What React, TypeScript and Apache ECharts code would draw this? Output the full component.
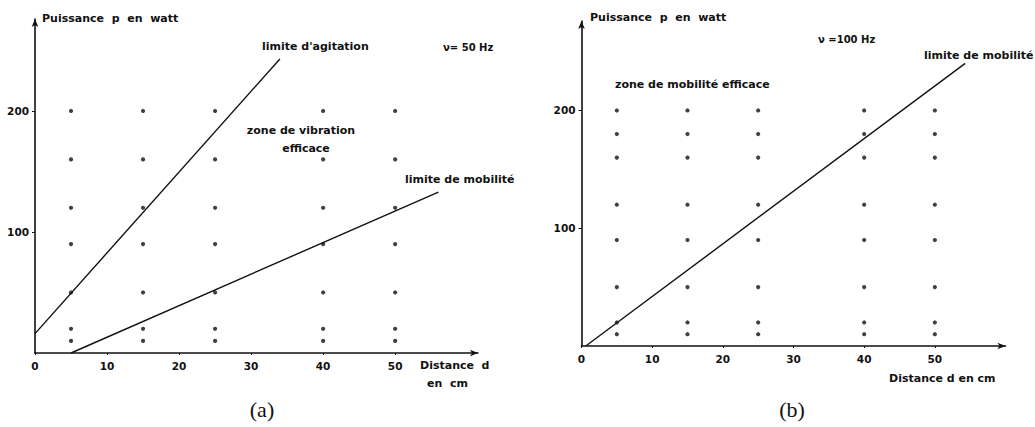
import React, { useEffect, useRef } from "react";
import * as echarts from "echarts";

// ---- data ----
const X_COLS = [5, 15, 25, 40, 50];
const P_ROWS_A = [10, 20, 50, 90, 120, 160, 200];
const P_ROWS_B = [10, 20, 50, 90, 120, 160, 180, 200];
const X_TICKS = [0, 10, 20, 30, 40, 50];
const Y_TICKS = [100, 200];
const AGITATION_A = [[0, 16], [34, 243]];
const MOBILITE_A = [[5, 0], [56, 133]];
const MOBILITE_B = [[0.6, 0], [54.3, 240]];

const INK = "#111";
const FONT = "DejaVu Sans";

function grid(xs: number[], ys: number[]) {
  const out: number[][] = [];
  xs.forEach((x) => ys.forEach((y) => out.push([x, y])));
  return out;
}

function xAxis(idx: number, max: number) {
  return {
    gridIndex: idx,
    type: "value",
    min: 0,
    max,
    interval: 10,
    axisLine: {
      show: true,
      onZero: false,
      symbol: ["none", "arrow"],
      symbolSize: [5, 8],
      lineStyle: { color: INK, width: 1.6 },
    },
    axisTick: { show: true, length: 2, customValues: X_TICKS, lineStyle: { color: INK } },
    axisLabel: {
      customValues: X_TICKS,
      margin: 7,
      color: INK,
      fontFamily: FONT,
      fontWeight: "bold",
      fontSize: 10.5,
    },
    splitLine: { show: false },
  };
}

function yAxis(idx: number) {
  return {
    gridIndex: idx,
    type: "value",
    min: 0,
    max: 276,
    interval: 100,
    axisLine: {
      show: true,
      onZero: false,
      symbol: ["none", "arrow"],
      symbolSize: [5, 8],
      lineStyle: { color: INK, width: 1.6 },
    },
    axisTick: { show: true, length: 3, customValues: Y_TICKS, lineStyle: { color: INK } },
    axisLabel: {
      customValues: Y_TICKS,
      margin: 6,
      color: INK,
      fontFamily: FONT,
      fontWeight: "bold",
      fontSize: 10.5,
    },
    splitLine: { show: false },
  };
}

function txt(text: string, x: number, y: number, align = "left", size = 11, font = FONT, weight = "bold") {
  return {
    type: "text",
    x,
    y,
    style: {
      text,
      fill: INK,
      font: `${weight} ${size}px "${font}"`,
      textAlign: align,
      textVerticalAlign: "middle",
    },
  };
}

export default function App() {
  const ref = useRef<HTMLDivElement>(null);
  useEffect(() => {
    if (!ref.current) return;
    const chart = echarts.init(ref.current, null, { renderer: "svg" });
    const lineStyle = { color: INK, width: 1.4 };
    chart.setOption({
      animation: false,
      backgroundColor: "#fff",
      grid: [
        { left: 35, top: 19, width: 443, height: 334 },
        { left: 581.5, top: 21, width: 424, height: 325 },
      ],
      xAxis: [xAxis(0, 61.5), xAxis(1, 60)],
      yAxis: [yAxis(0), yAxis(1)],
      series: [
        {
          type: "scatter",
          xAxisIndex: 0,
          yAxisIndex: 0,
          symbol: "circle",
          symbolSize: 4.2,
          itemStyle: { color: INK },
          data: grid(X_COLS, P_ROWS_A),
        },
        {
          type: "scatter",
          xAxisIndex: 1,
          yAxisIndex: 1,
          symbol: "circle",
          symbolSize: 4.2,
          itemStyle: { color: INK },
          data: grid(X_COLS, P_ROWS_B),
        },
        { type: "line", xAxisIndex: 0, yAxisIndex: 0, showSymbol: false, lineStyle, data: AGITATION_A },
        { type: "line", xAxisIndex: 0, yAxisIndex: 0, showSymbol: false, lineStyle, data: MOBILITE_A },
        { type: "line", xAxisIndex: 1, yAxisIndex: 1, showSymbol: false, lineStyle, data: MOBILITE_B },
      ],
      graphic: [
        // panel (a)
        txt("Puissance  p  en  watt", 42, 18),
        txt("limite d'agitation", 262, 46),
        txt("ν= 50 Hz", 443, 47, "left", 10),
        txt("zone de vibration", 301, 130, "center"),
        txt("efficace", 306, 148, "center"),
        txt("limite de mobilité", 405, 179),
        txt("Distance  d", 420, 365),
        txt("en  cm", 427, 383),
        // panel (b)
        txt("Puissance  p  en  watt", 590, 17),
        txt("ν =100 Hz", 818, 39, "left", 10),
        txt("limite de mobilité", 924, 55),
        txt("zone de mobilité efficace", 615, 84),
        txt("Distance d en cm", 889, 378),
        // captions
        txt("(a)", 262, 409, "center", 22, "Liberation Serif", "normal"),
        txt("(b)", 792, 409, "center", 22, "Liberation Serif", "normal"),
      ],
    });
    return () => chart.dispose();
  }, []);
  return (
    <div
      ref={ref}
      style={{ position: "absolute", left: 0, top: 0, width: 1035, height: 427, background: "#fff" }}
    />
  );
}
